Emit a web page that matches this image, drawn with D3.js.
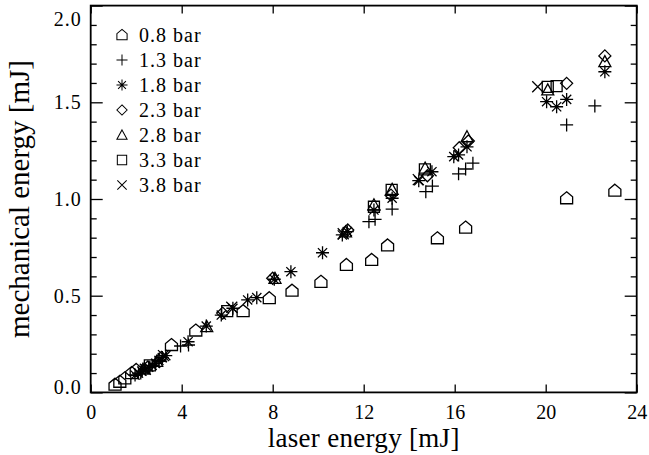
<!DOCTYPE html>
<html>
<head>
<meta charset="utf-8">
<script src="https://cdn.jsdelivr.net/npm/d3@7"></script>
<style>
  body { margin: 0; background: #fff; }
  text { font-family: "Liberation Serif", "Times New Roman", serif; fill: #000; }
</style>
</head>
<body>
<svg width="649" height="455"></svg>
<script>
// data: [laser energy mJ, mechanical energy mJ]
const p08 = [[1.07,0.04],[1.28,0.055],[1.5,0.073],[1.8,0.10],[2.0,0.116],[3.55,0.245],[4.62,0.32],
  [6.7,0.42],[7.85,0.487],[8.85,0.526],[10.12,0.572],[11.24,0.659],[12.35,0.685],[13.05,0.76],
  [15.24,0.797],[16.48,0.852],[20.92,1.004],[23.04,1.043]];
const p13 = [[2.2,0.10],[2.6,0.13],[3.0,0.16],[3.95,0.24],[4.3,0.245],[12.23,0.883],[12.5,0.895],
  [13.25,0.948],[14.73,1.038],[15.02,1.067],[16.17,1.13],[16.48,1.155],[16.8,1.185],[20.92,1.383],[22.16,1.481]];
const p18 = [[1.95,0.09],[2.1,0.10],[2.25,0.11],[2.4,0.12],[2.55,0.13],[2.7,0.14],[2.85,0.15],[3.0,0.165],
  [3.15,0.18],[3.3,0.19],[4.28,0.262],[5.08,0.343],[5.74,0.40],[6.25,0.435],[6.9,0.478],[7.3,0.49],
  [8.07,0.585],[8.8,0.624],[10.19,0.722],[11.06,0.814],[11.28,0.831],[12.45,0.943],[13.25,1.004],
  [14.42,1.095],[15.0,1.141],[15.96,1.219],[16.17,1.228],[16.54,1.27],[20.04,1.503],[20.48,1.477],
  [20.92,1.515],[22.6,1.658]];
const p23 = [[2.5,0.13],[3.1,0.18],[5.8,0.41],[8.0,0.59],[11.3,0.84],[13.2,1.02],[14.8,1.12],
  [16.2,1.265],[16.6,1.30],[20.92,1.598],[22.6,1.74]];
const p28 = [[2.3,0.12],[2.9,0.16],[5.1,0.34],[8.1,0.59],[11.2,0.83],[12.45,0.97],[13.25,1.05],
  [14.7,1.16],[16.54,1.322],[20.09,1.564],[22.6,1.71]];
const p33 = [[2.6,0.14],[6.0,0.42],[12.45,0.96],[13.23,1.047],[14.69,1.153],[20.09,1.58],[20.48,1.584]];
const p38 = [[2.4,0.12],[3.2,0.19],[6.2,0.44],[11.1,0.82],[14.4,1.10],[19.65,1.58]];

const seriesNames = ["0.8 bar", "1.3 bar", "1.8 bar", "2.3 bar", "2.8 bar", "3.3 bar", "3.8 bar"];
const seriesData = [p08, p13, p18, p23, p28, p33, p38];
const markers = ["house", "plus", "star", "diamond", "triangle", "square", "cross"];

const xTicks = [0, 4, 8, 12, 16, 20, 24];
const yTicks = [0, 0.5, 1.0, 1.5, 2.0];

const plotLeft = 90.7, plotRight = 636.7, plotTop = 5.6, plotBottom = 392.4;
const serif = "'Liberation Serif', 'Times New Roman', serif";

var x = d3.scaleLinear().domain([0, 24]).range([plotLeft, plotRight]);
var y = d3.scaleLinear().domain([0, 2]).range([plotBottom, plotTop]);

var svg = d3.select("svg");

// marker paths, centred on 0,0
function markerPath(kind) {
    switch (kind) {
        case "house": return "M0,-6.5L6,-1.5L6,5.5L-6,5.5L-6,-1.5Z";
        case "plus": return "M-6.5,0H6.5M0,-6.5V6.5";
        case "star": return "M-6.5,0H6.5M0,-6.5V6.5M-4.6,-4.6L4.6,4.6M-4.6,4.6L4.6,-4.6";
        case "diamond": return "M0,-6L6,0L0,6L-6,0Z";
        case "triangle": return "M0,-6L6,5L-6,5Z";
        case "square": return "M-5.5,-5.5H5.5V5.5H-5.5Z";
        case "cross": return "M-5.5,-5.5L5.5,5.5M-5.5,5.5L5.5,-5.5";
    }
}

// points
seriesData.forEach((pts, i) => {
    svg.append("g").selectAll("path")
        .data(pts)
        .join("path")
        .attr("transform", d => "translate(" + x(d[0]) + "," + y(d[1]) + ")")
        .attr("d", markerPath(markers[i]))
        .attr("fill", "none")
        .attr("stroke", "#000")
        .attr("stroke-width", 1.3);
});

// axes, ticks pointing inward
function styleAxis(g) {
    g.select(".domain").remove();
    g.selectAll("line").attr("stroke", "#000").attr("stroke-width", 1.3);
    g.selectAll("text").style("font-size", "20px").style("font-family", serif);
}

var yMinor = d3.range(0, 2.001, 0.1).filter(v => Math.abs(v * 2 - Math.round(v * 2)) > 1e-6);

svg.append("g").attr("transform", "translate(" + plotLeft + ",0)")
    .call(d3.axisLeft(y).tickValues(yTicks).tickSize(-12).tickPadding(9).tickFormat(d3.format(".1f")))
    .call(styleAxis)
    .selectAll("text")
    .style("letter-spacing", "1px")
    .attr("dy", d => d === 2 ? "1.0em" : d === 0 ? "0.05em" : "0.32em");
svg.append("g").attr("transform", "translate(" + plotLeft + ",0)")
    .call(d3.axisLeft(y).tickValues(yMinor).tickSize(-6).tickFormat(""))
    .call(styleAxis);
svg.append("g").attr("transform", "translate(" + plotRight + ",0)")
    .call(d3.axisRight(y).tickValues(yTicks).tickSize(-12).tickFormat(""))
    .call(styleAxis);
svg.append("g").attr("transform", "translate(" + plotRight + ",0)")
    .call(d3.axisRight(y).tickValues(yMinor).tickSize(-6).tickFormat(""))
    .call(styleAxis);

svg.append("g").attr("transform", "translate(0," + plotBottom + ")")
    .call(d3.axisBottom(x).tickValues(xTicks).tickSize(-8).tickPadding(12).tickFormat(d3.format("d")))
    .call(styleAxis);
svg.append("g").attr("transform", "translate(0," + plotTop + ")")
    .call(d3.axisTop(x).tickValues(xTicks).tickSize(-8).tickFormat(""))
    .call(styleAxis);

// frame
svg.append("rect")
    .attr("x", plotLeft).attr("y", plotTop)
    .attr("width", plotRight - plotLeft).attr("height", plotBottom - plotTop)
    .attr("fill", "none").attr("stroke", "#000").attr("stroke-width", 1.8);

// axis titles
svg.append("text")
    .attr("x", (plotLeft + plotRight) / 2).attr("y", 447)
    .attr("text-anchor", "middle").style("font-size", "27px").style("font-family", serif)
    .style("letter-spacing", "0.3px")
    .text("laser energy [mJ]");
svg.append("text")
    .attr("transform", "translate(29," + (plotTop + plotBottom) / 2 + ") rotate(-90)")
    .attr("text-anchor", "middle").style("font-size", "29px").style("font-family", serif)
    .text("mechanical energy [mJ]");

// legend
var legend = svg.append("g");
seriesNames.forEach((name, i) => {
    var cy = 35 + 25 * i;
    legend.append("path")
        .attr("transform", "translate(122," + cy + ") scale(0.85)")
        .attr("d", markerPath(markers[i]))
        .attr("fill", "none").attr("stroke", "#000").attr("stroke-width", 1.2);
    legend.append("text")
        .attr("x", 139).attr("y", cy + 7)
        .style("font-size", "20px").style("font-family", serif)
        .style("letter-spacing", "1px")
        .text(name);
});
</script>
</body>
</html>
